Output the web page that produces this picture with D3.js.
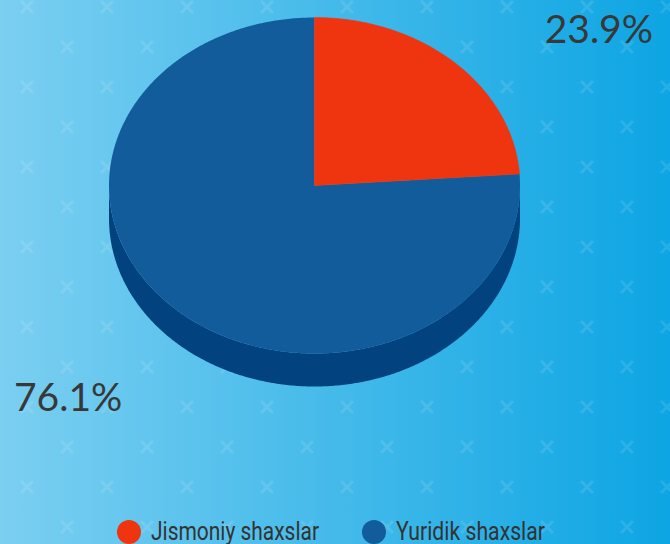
<!DOCTYPE html>
<html>
<head>
<meta charset="utf-8">
<script src="https://cdn.jsdelivr.net/npm/d3@7"></script>
<style>
  html, body { margin: 0; padding: 0; overflow: hidden; }
  svg { display: block; }
</style>
</head>
<body>
<svg width="670" height="544"></svg>
<script>
const labels = ["Jismoniy shaxslar", "Yuridik shaxslar"];
const values = [23.9, 76.1];
const topColors = ["#ef3510", "#125c9c"];
const sideColors = ["#b52508", "#02437f"];

const svg = d3.select("svg");
const width = 670, height = 544;

// background gradient
const defs = svg.append("defs");
const grad = defs.append("linearGradient")
    .attr("id", "bg")
    .attr("x1", "0%").attr("x2", "100%")
    .attr("y1", "0%").attr("y2", "0%");
grad.append("stop").attr("offset", "0%").attr("stop-color", "#7bcff1");
grad.append("stop").attr("offset", "100%").attr("stop-color", "#0da5e3");

svg.append("rect")
    .attr("width", width)
    .attr("height", height)
    .attr("fill", "url(#bg)");

// x pattern
const marks = svg.append("g")
    .attr("stroke", "#ffffff")
    .attr("stroke-opacity", 0.11)
    .attr("stroke-width", 3);
for (let j = 0; j * 40 + 7 < height + 20; j++) {
    for (let k = 0; k * 40 + 27 < width + 20; k++) {
        if ((j + k) % 2 !== 0) continue;
        const x = 27 + k * 40, y = 7 + j * 40;
        marks.append("path")
            .attr("d", `M${x - 6},${y - 6}L${x + 6},${y + 6}M${x + 6},${y - 6}L${x - 6},${y + 6}`);
    }
}

// 3d pie
const cx = 314.5, cy = 185.5, rx = 205.5, ry = 168, depth = 33;

const pie = d3.pie().sort(null).value(d => d);
const arcs = pie(values);

function pt(a, dy) {
    return [cx + rx * Math.sin(a), cy - ry * Math.cos(a) + (dy || 0)];
}

function arcPoints(a0, a1, dy) {
    const n = Math.max(2, Math.ceil((a1 - a0) / 0.01));
    return d3.range(n + 1).map(i => pt(a0 + (a1 - a0) * i / n, dy));
}

const line = d3.line();
const pieG = svg.append("g");

// sides (front half only)
arcs.forEach((d, i) => {
    const a0 = Math.max(d.startAngle, Math.PI / 2);
    const a1 = Math.min(d.endAngle, Math.PI * 1.5);
    if (a1 <= a0) return;
    const topEdge = arcPoints(a0, a1, 0);
    const bottomEdge = arcPoints(a0, a1, depth).reverse();
    pieG.append("path")
        .attr("d", line(topEdge.concat(bottomEdge)) + "Z")
        .attr("fill", sideColors[i]);
});

// top faces (blue first, red on top so seams stay hidden)
arcs.slice().reverse().forEach(d => {
    const i = d.index;
    const pts = [[cx, cy]].concat(arcPoints(d.startAngle, d.endAngle, 0));
    pieG.append("path")
        .attr("d", line(pts) + "Z")
        .attr("fill", topColors[i])
        .attr("stroke", i === 0 ? topColors[i] : "none")
        .attr("stroke-width", 0.6);
});

// percentage labels
const fmt = d => d.toFixed(1) + "%";
svg.append("text")
    .attr("x", 653)
    .attr("y", 43)
    .attr("text-anchor", "end")
    .attr("font-family", "Lato")
    .attr("font-size", "39px")
    .attr("fill", "#383838")
    .text(fmt(values[0]));

svg.append("text")
    .attr("x", 14)
    .attr("y", 411)
    .attr("text-anchor", "start")
    .attr("font-family", "Lato")
    .attr("font-size", "39px")
    .attr("fill", "#383838")
    .text(fmt(values[1]));

// legend
const legendX = [129, 374];
const legendW = [168, 149];
const legend = svg.append("g");
labels.forEach((l, i) => {
    legend.append("circle")
        .attr("cx", legendX[i])
        .attr("cy", 532)
        .attr("r", 12)
        .attr("fill", topColors[i]);
    legend.append("text")
        .attr("x", legendX[i] + 22)
        .attr("y", 540)
        .attr("font-family", "Roboto")
        .attr("font-size", "25px")
        .attr("fill", "#333")
        .attr("textLength", legendW[i])
        .attr("lengthAdjust", "spacingAndGlyphs")
        .text(l);
});
</script>
</body>
</html>
